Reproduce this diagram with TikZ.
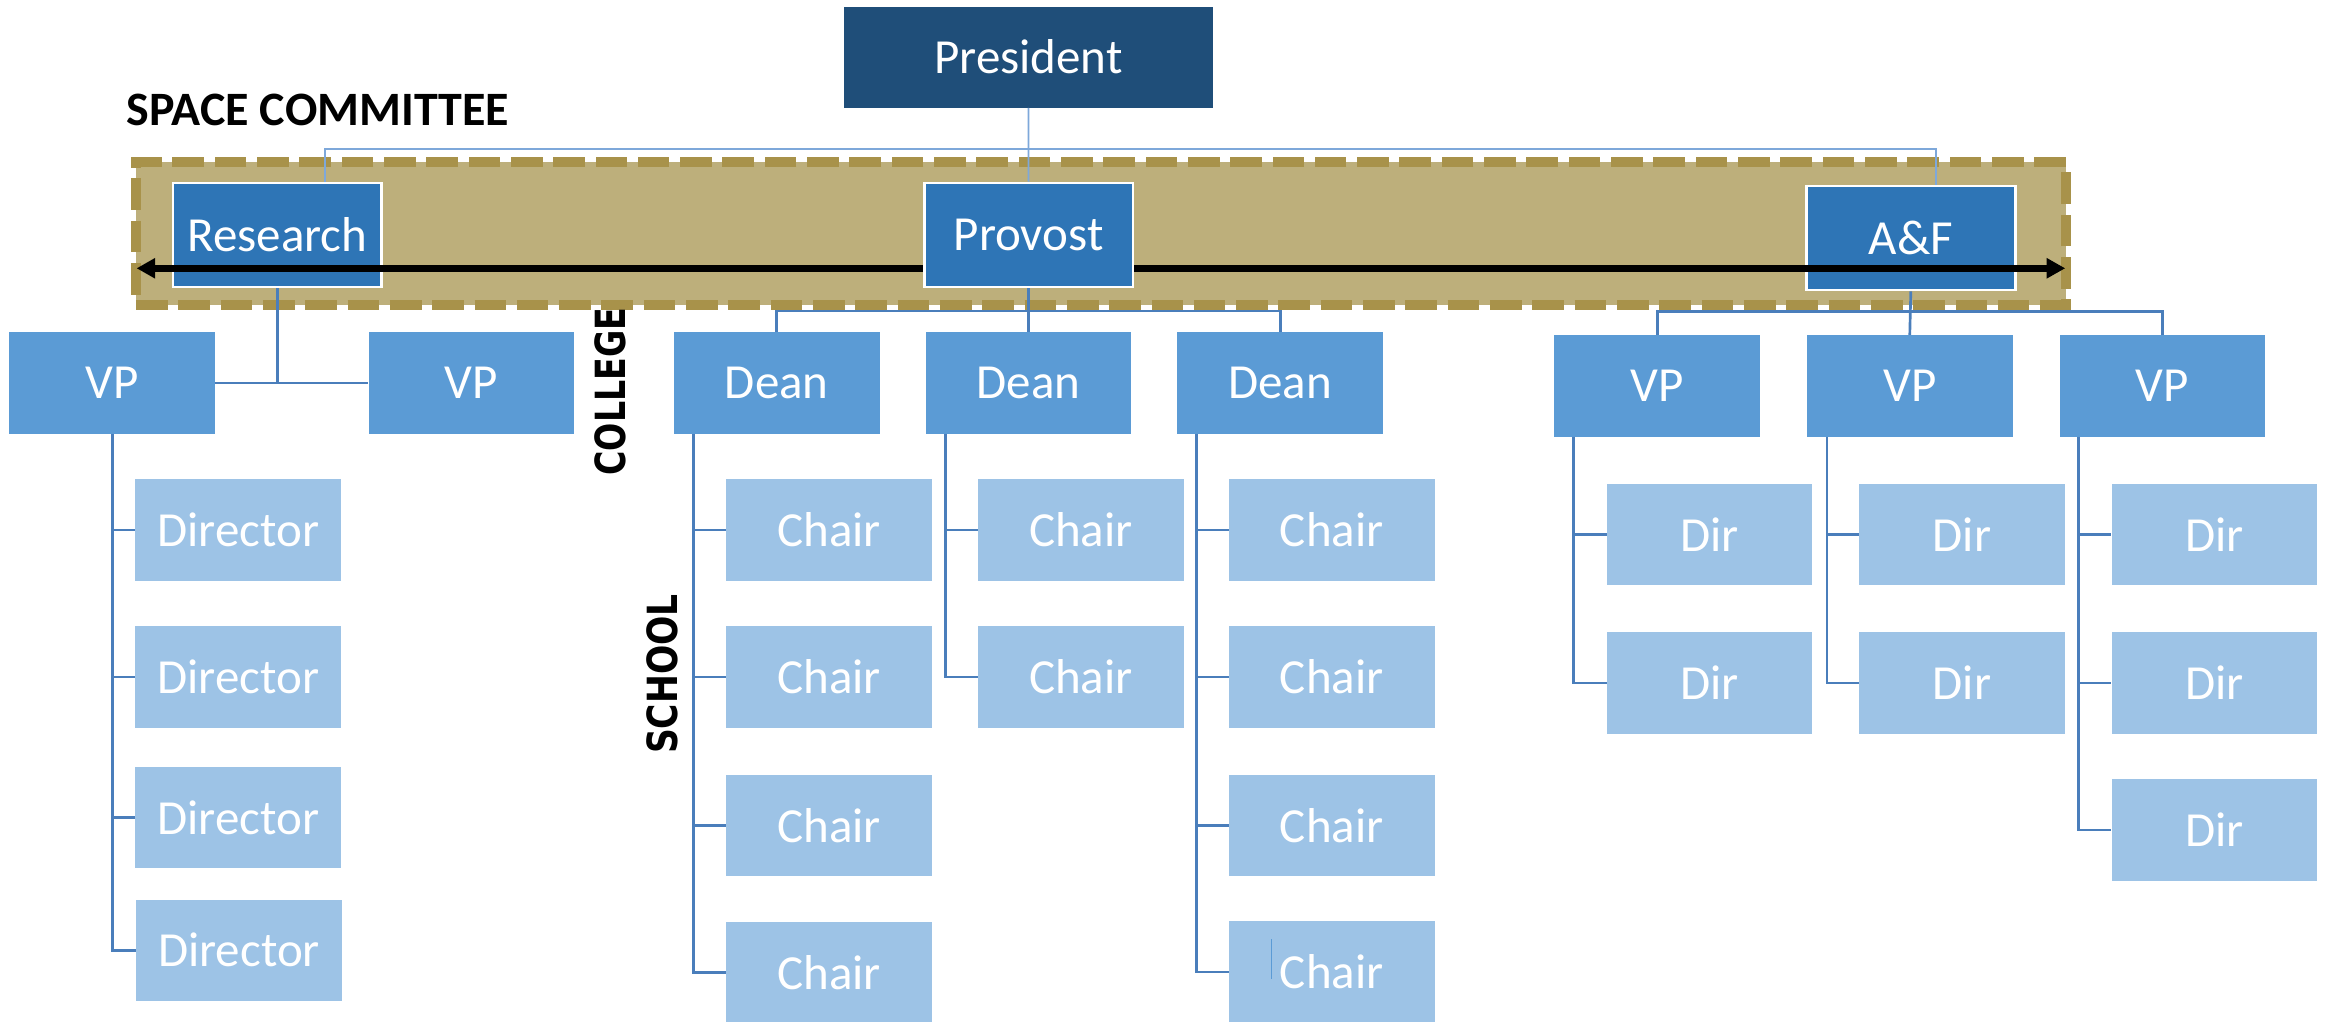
\documentclass[tikz,border=0pt]{standalone}
\usepackage{fontspec}
\setmainfont{Carlito}
\newfontfamily\sidefont{DejaVu Sans}
\usetikzlibrary{arrows.meta}

\definecolor{presblue}{HTML}{1F4E79}
\definecolor{execblue}{HTML}{2E75B6}
\definecolor{vpblue}{HTML}{5B9BD5}
\definecolor{leafblue}{HTML}{9DC3E6}
\definecolor{linkblue}{HTML}{4A7EBB}
\definecolor{toplinkblue}{HTML}{7EA8DA}
\definecolor{cmtfill}{HTML}{BDAF7B}
\definecolor{cmtedge}{HTML}{A8924A}

\begin{document}
\begin{tikzpicture}[x=1pt,y=-1pt,
  box/.style={minimum width=138.5pt, minimum height=68.3pt, inner sep=0pt,
    text=white, font=\fontsize{33}{36}\selectfont},
  topbox/.style={box, fill=presblue, minimum width=248.5pt, minimum height=68pt},
  execbox/.style={box, fill=execblue, draw=white, line width=1.8pt,
    minimum width=140.6pt, minimum height=70pt},
  midbox/.style={box, fill=vpblue},
  leafbox/.style={box, fill=leafblue},
  link/.style={draw=linkblue, line width=1.8pt},
  toplink/.style={draw=toplinkblue, line width=1.2pt},
  arrowline/.style={draw=black, line width=4.4pt,
    -{Triangle[length=12.5pt,width=13pt]}},
  committee/.style={fill=cmtfill, draw=cmtedge, line width=7pt,
    dash pattern=on 21.3pt off 7.2pt, inner sep=0pt},
  sidelabel/.style={rotate=90, inner sep=0pt,
    font=\sidefont\bfseries\fontsize{28}{30}\selectfont},
  caret/.style={draw=vpblue, line width=0.7pt}
]
\useasboundingbox (0,0) rectangle (1568,688);

% space committee frame and its title
\node[committee, minimum width=1299.9pt, minimum height=96.5pt] (cmt) at (741.55,157.25) {};
\node[anchor=base west, inner sep=0pt, font=\fontsize{32.3}{34}\selectfont\bfseries]
  (cmtlabel) at (85.3,84.2) {SPACE COMMITTEE};

% top of the chart
\node[topbox] (pres) at (692.7,38.5) {President};
\node[execbox] (res) at (186.8,158.3) {Research};
\node[execbox] (prov) at (692.8,158.2) {Provost};
\node[execbox] (af) at (1287,160.3) {A\&F};

\coordinate (topbus) at (692.8,100.4);
\draw[toplink] (pres.south) -- (prov.north);
\draw[toplink] ([xshift=32.2pt]res.north) |- (topbus) -| ([xshift=16.8pt]af.north);

% committee arrows out of the Provost
\coordinate (lefttip) at (92,180.7);
\coordinate (righttip) at (1391,180.7);
\draw[arrowline] (lefttip -| prov.west) -- (lefttip);
\draw[arrowline] (righttip -| prov.east) -- (righttip);

% third level
\node[midbox] (vpl1) at (75.5,257.9) {VP};
\node[midbox] (vpl2) at (317.5,257.9) {VP};
\node[midbox] (dean1) at (523.2,257.9) {Dean};
\node[midbox] (dean2) at (692.8,257.9) {Dean};
\node[midbox] (dean3) at (862.3,257.9) {Dean};
\node[midbox] (vpa) at (1116.2,259.9) {VP};
\node[midbox] (vpb) at (1286.3,259.9) {VP};
\node[midbox] (vpc) at (1456.5,259.9) {VP};

\draw[link] (res.south) -- (res.south |- vpl1.east);
\draw[link] (vpl1.east) -- (vpl2.west);

\coordinate (provbus) at (692.8,209.5);
\draw[link] (prov.south) -- (dean2.north);
\draw[link] (dean1.north) |- (provbus) -| (dean3.north);

\coordinate (afbus) at (1286.3,210);
\draw[link] (af.south) -- (vpb.north);
\draw[link] (vpa.north) |- (afbus) -| (vpc.north);

% fourth level
\node[leafbox] (dir1) at (160.5,357) {Director};
\node[leafbox] (dir2) at (160.5,456) {Director};
\node[leafbox] (dir3) at (160.5,550.5) {Director};
\node[leafbox] (dir4) at (161,640) {Director};

\node[leafbox] (c11) at (558.5,357) {Chair};
\node[leafbox] (c12) at (558.5,456) {Chair};
\node[leafbox] (c13) at (558.5,556) {Chair};
\node[leafbox] (c14) at (558.5,655.2) {Chair};

\node[leafbox] (c21) at (728,357) {Chair};
\node[leafbox] (c22) at (728,456) {Chair};

\node[leafbox] (c31) at (897,357) {Chair};
\node[leafbox] (c32) at (897,456) {Chair};
\node[leafbox] (c33) at (897,556) {Chair};
\node[leafbox] (c34) at (897,654.7) {Chair};

\node[leafbox] (da1) at (1151.5,360) {Dir};
\node[leafbox] (da2) at (1151.5,460) {Dir};
\node[leafbox] (db1) at (1321.5,360) {Dir};
\node[leafbox] (db2) at (1321.5,460) {Dir};
\node[leafbox] (dc1) at (1491.5,360) {Dir};
\node[leafbox] (dc2) at (1491.5,460) {Dir};
\node[leafbox] (dc3) at (1491.5,559) {Dir};

% text caret left in the last chair box
\draw[caret] ([shift={(28.7,-22.2)}]c34.west) -- ++(0,27);

% trunks down the left side of each group
\coordinate (tvp) at (75.6,0);
\coordinate (td1) at (467,0);
\coordinate (td2) at (636.6,0);
\coordinate (td3) at (806,0);
\coordinate (tva) at (1060,0);
\coordinate (tvb) at (1230.5,0);
\coordinate (tvc) at (1400,0);

\draw[link] (vpl1.south -| tvp) |- (dir4.west);
\foreach \n in {dir1,dir2,dir3} \draw[link] (\n.west -| tvp) -- (\n.west);

\draw[link] (dean1.south -| td1) |- (c14.west);
\foreach \n in {c11,c12,c13} \draw[link] (\n.west -| td1) -- (\n.west);

\draw[link] (dean2.south -| td2) |- (c22.west);
\draw[link] (c21.west -| td2) -- (c21.west);

\draw[link] (dean3.south -| td3) |- (c34.west);
\foreach \n in {c31,c32,c33} \draw[link] (\n.west -| td3) -- (\n.west);

\draw[link] (vpa.south -| tva) |- (da2.west);
\draw[link] (da1.west -| tva) -- (da1.west);

\draw[link] (vpb.south -| tvb) |- (db2.west);
\draw[link] (db1.west -| tvb) -- (db1.west);

\draw[link] (vpc.south -| tvc) |- (dc3.west);
\foreach \n in {dc1,dc2} \draw[link] (\n.west -| tvc) -- (\n.west);

% side labels
\node[sidelabel] (college) at (411.4,263.8) {\scalebox{0.80}[1]{COLLEGE}};
\node[sidelabel] (school) at (445.8,454) {\scalebox{0.83}[1]{SCHOOL}};
\end{tikzpicture}
\end{document}
